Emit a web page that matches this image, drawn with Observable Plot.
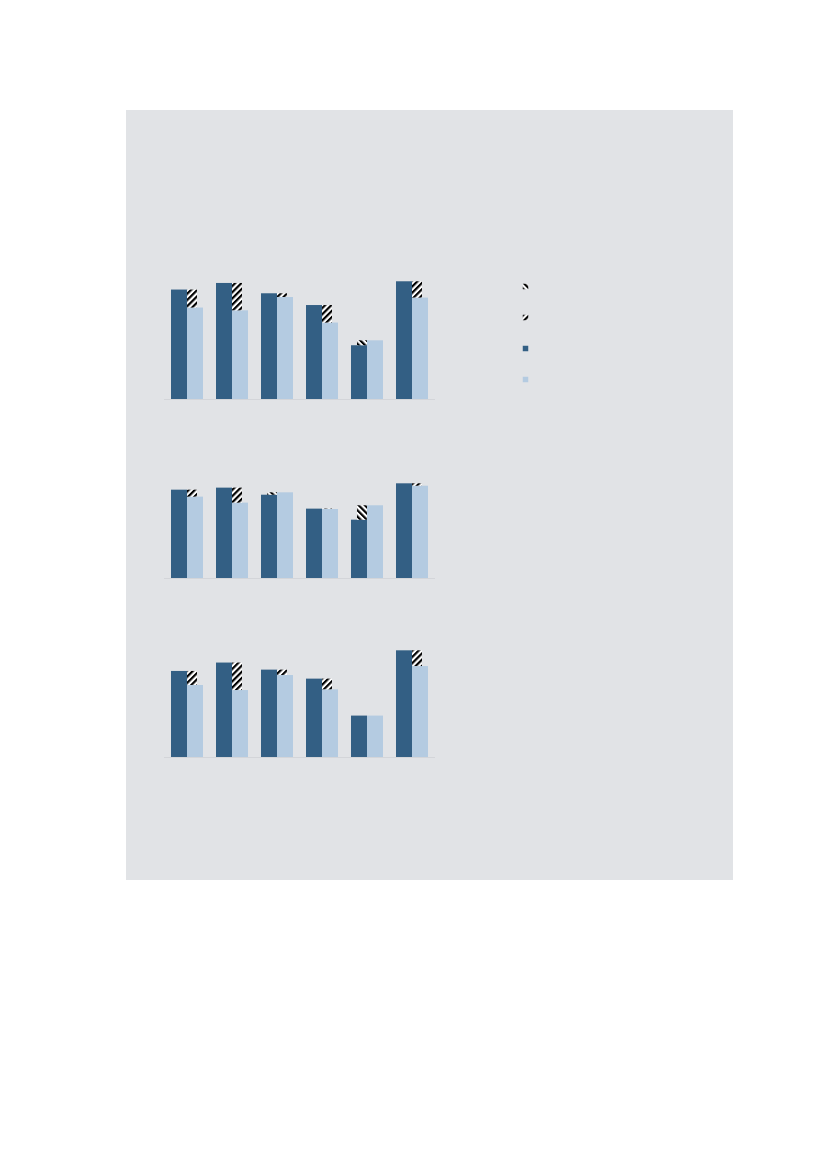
<!DOCTYPE html>
<html><head><meta charset="utf-8">
<script src="https://cdn.jsdelivr.net/npm/d3@7"></script>
<script src="https://cdn.jsdelivr.net/npm/@observablehq/plot@0.6"></script>
<style>
body{margin:0;background:#fff;font-family:"Liberation Sans",Arial,sans-serif}
#page{position:relative;width:827px;height:1169px;background:#fff;overflow:hidden}
#panel{position:absolute;left:126px;top:110px;width:607px;height:770px;background:#e1e3e6}
#chart{position:absolute;left:0;top:0}
#legend{position:absolute;left:510px;top:270px}
</style></head><body>
<div id="page"><div id="panel"></div><div id="chart"></div><div id="legend"></div></div>
<script>
// Data (no text labels appear in the reference)
const groups = ["1", "2", "3", "4", "5", "6"];
const panels = ["A", "B", "C"];
const darkA  = [91.2, 96.7, 88.1, 78.3, 44.8, 98.1];
const lightA = [76.2, 73.9, 85.0, 63.7, 48.9, 84.5];
const darkB  = [73.6, 75.3, 69.4, 57.8, 48.6, 78.9];
const lightB = [67.8, 62.8, 71.4, 57.5, 60.6, 76.9];
const darkC  = [71.7, 78.7, 72.8, 65.3, 34.5, 88.9];
const lightC = [60.0, 55.8, 68.3, 56.4, 34.5, 75.8];
const legendKeys = ["increase", "decrease", "dark", "light"];

const darkCol = "#335f84";
const lightCol = "#b4cbe1";

const darkAll = [darkA, darkB, darkC];
const lightAll = [lightA, lightB, lightC];
const rows = panels.flatMap((p, i) => groups.map((g, j) => ({panel: p, group: g, dark: darkAll[i][j], light: lightAll[i][j]})));
const downRows = rows.filter(d => d.dark > d.light);
const upRows = rows.filter(d => d.light > d.dark);

const chart = Plot.plot({
  width: 445,
  height: 248.7 + 508 + 20,
  marginLeft: 164, marginRight: 10, marginTop: 248.7, marginBottom: 20,
  style: {background: "transparent"},
  x: {domain: groups, paddingInner: 13 / 45, paddingOuter: 0.149, axis: null},
  y: {domain: [0, 125], axis: null},
  fy: {domain: panels, paddingInner: 29 / 179, paddingOuter: 0, axis: null},
  marks: [
    Plot.ruleY([0], {stroke: "#d3d5d9", strokeWidth: 1.2}),
    Plot.barY(rows, {x: "group", fy: "panel", y: "dark", fill: darkCol, insetRight: 16}),
    Plot.barY(rows, {x: "group", fy: "panel", y: "light", fill: lightCol, insetLeft: 16}),
    Plot.barY(downRows, {x: "group", fy: "panel", y1: "light", y2: "dark", fill: "url(#hatchDown)", insetLeft: 16, insetRight: 6}),
    Plot.barY(upRows, {x: "group", fy: "panel", y1: "dark", y2: "light", fill: "url(#hatchUp)", insetLeft: 6, insetRight: 16})
  ]
});

const defs = d3.select(chart).insert("defs", ":first-child");
function addPattern(id, angle) {
  const p = defs.append("pattern").attr("id", id).attr("patternUnits", "userSpaceOnUse")
    .attr("width", 4.4).attr("height", 4.4).attr("patternTransform", `rotate(${angle})`);
  p.append("rect").attr("width", 4.4).attr("height", 4.4).attr("fill", "#ffffff");
  p.append("rect").attr("width", 2.2).attr("height", 4.4).attr("fill", "#000000");
}
addPattern("hatchDown", 45);
addPattern("hatchUp", -45);
document.getElementById("chart").append(chart);

const legendFills = {increase: "url(#hatchUp)", decrease: "url(#hatchDown)", dark: darkCol, light: lightCol};
const legend = Plot.plot({
  width: 30, height: 125,
  margin: 0,
  style: {background: "transparent"},
  y: {domain: legendKeys, type: "point", padding: 0, range: [14.8, 109.5], axis: null},
  marks: legendKeys.map(k => Plot.dot([k], {y: d => d, symbol: "square", r: 3.1, fill: legendFills[k]}))
});
document.getElementById("legend").append(legend);
</script>
</body></html>
